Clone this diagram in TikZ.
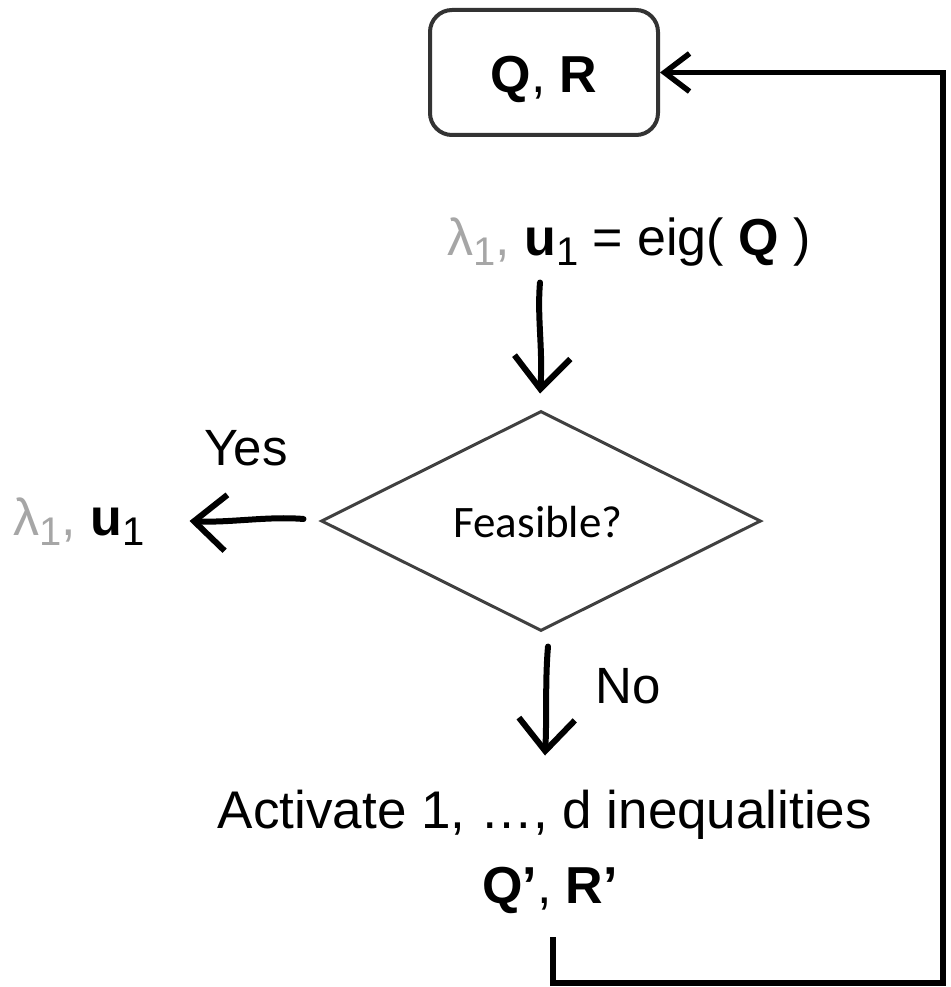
\documentclass[tikz,border=0pt]{standalone}
\usepackage{fontspec}
\setmainfont{Liberation Sans}
\newfontfamily\calfont{Carlito}
\usetikzlibrary{arrows.meta,shapes.geometric,calc}
\definecolor{lgray}{HTML}{A6A6A6}
\definecolor{boxgray}{HTML}{333333}
\definecolor{diagray}{HTML}{404040}
\newcommand{\setfs}[1]{\fontsize{#1}{#1}\selectfont}
\newcommand{\lsub}[1]{\raisebox{-0.2em}{\setfs{40}\mdseries #1}}
\begin{document}
\begin{tikzpicture}[x=1pt,y=-1pt,
  txt/.style={inner sep=0pt,anchor=base,font=\setfs{51}},
  hand/.style={line width=6pt,line cap=round,line join=round,
    -{Straight Barb[length=32pt,width=56pt]}},
  loopline/.style={line width=5.5pt,line join=miter,
    -{Straight Barb[length=25pt,width=38pt]}}]
\useasboundingbox (0,0) rectangle (950,987);
% start box
\node[draw=boxgray,line width=4pt,rounded corners=22pt,minimum width=228pt,
  minimum height=125pt,inner sep=0pt] (box) at (544,72.5) {};
\node[txt,font=\setfs{52}] (qr) at (544,93) {\textbf{Q}, \textbf{R}};
% eigen step
\node[txt,font=\setfs{52}] (eig) at (629,255) {{\color{lgray}λ\lsub{1},} \textbf{u}\lsub{1} = eig( \textbf{Q} )};
% decision
\node[draw=diagray,line width=3pt,diamond,minimum width=440pt,minimum height=220pt,
  inner sep=0pt] (dia) at (541,521) {};
\node[inner sep=0pt,anchor=base,font=\calfont\setfs{45}] (feas) at (538,537) {Feasible?};
% outputs and labels
\node[txt] (yes) at (246,465) {Yes};
\node[txt,font=\setfs{52}] (out) at (79,535) {{\color{lgray}λ\lsub{1},} \textbf{u}\lsub{1}};
\node[txt] (no) at (628,703) {No};
\node[txt,font=\setfs{53}] (act) at (545,828) {Activate 1, …, d inequalities};
\node[txt,font=\setfs{52}] (qr2) at (550,903) {\textbf{Q’}, \textbf{R’}};
% connectors
\draw[hand] ($(dia.north)+(-1,-127)$) .. controls +(-3,35) and +(3,-45) .. ($(dia.north)+(-1,-16)$);
\draw[hand] ($(dia.west)+(-16,-2)$) .. controls +(-35,-3) and +(40,2) .. ($(dia.west)+(-130,0)$);
\draw[hand] ($(dia.south)+(7,14)$) .. controls +(-3,35) and +(2,-40) .. ($(dia.south)+(4,123)$);
\coordinate (corner) at (943,983);
\draw[loopline] ($(qr2.base)+(3,34)$) |- (corner) |- (box.east);
\end{tikzpicture}
\end{document}
